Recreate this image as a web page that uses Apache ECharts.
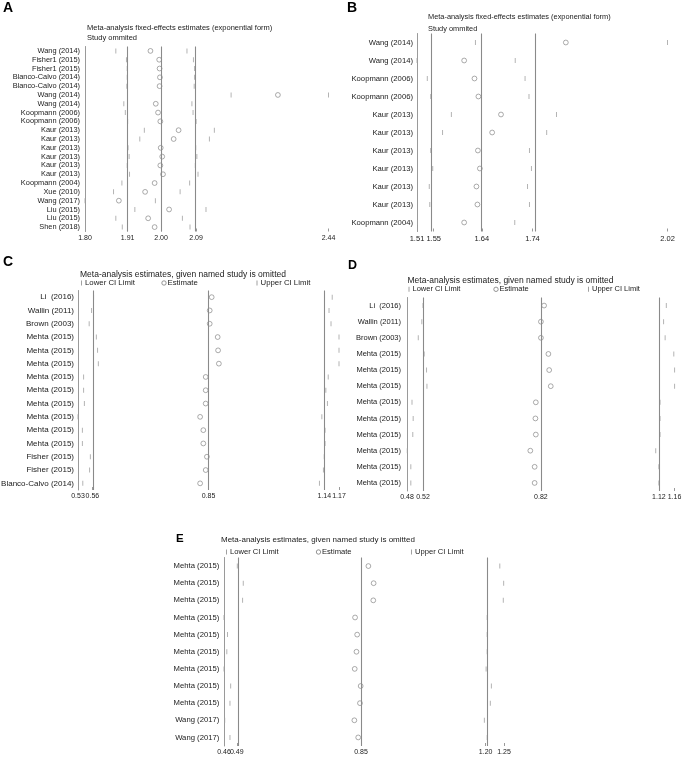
<!DOCTYPE html>
<html><head><meta charset="utf-8">
<script src="https://cdn.jsdelivr.net/npm/echarts@6/dist/echarts.min.js"></script>
<style>html,body{margin:0;padding:0;background:#fff}#c{width:685px;height:759px}</style>
</head><body><div id="c"></div>
<script>
// ---------- Panel A ----------
const aStudies = ["Wang (2014)","Fisher1 (2015)","Fisher1 (2015)","Blanco-Calvo (2014)","Blanco-Calvo (2014)","Wang (2014)","Wang (2014)","Koopmann (2006)","Koopmann (2006)","Kaur (2013)","Kaur (2013)","Kaur (2013)","Kaur (2013)","Kaur (2013)","Kaur (2013)","Koopmann (2004)","Xue (2010)","Wang (2017)","Liu (2015)","Liu (2015)","Shen (2018)"];
const aLower = [1.881,1.909,1.911,1.911,1.910,2.184,1.902,1.906,1.912,1.956,1.944,1.913,1.916,1.911,1.917,1.897,1.875,1.800,1.931,1.881,1.898];
const aEst   = [1.972,1.995,1.996,1.997,1.996,2.307,1.986,1.992,1.998,2.046,2.033,1.999,2.003,1.998,2.005,1.983,1.958,1.889,2.021,1.966,1.983];
const aUpper = [2.068,2.085,2.088,2.088,2.087,2.440,2.081,2.084,2.092,2.140,2.127,2.091,2.094,2.090,2.097,2.075,2.050,1.985,2.118,2.056,2.076];
const aTicks = [1.80,1.912,2.00,2.092,2.44];
const aTickLabels = ["1.80","1.91","2.00","2.09","2.44"];

// ---------- Panel B ----------
const bStudies = ["Wang (2014)","Wang (2014)","Koopmann (2006)","Koopmann (2006)","Kaur (2013)","Kaur (2013)","Kaur (2013)","Kaur (2013)","Kaur (2013)","Kaur (2013)","Koopmann (2004)"];
const bLower = [1.629,1.510,1.531,1.538,1.580,1.562,1.538,1.542,1.535,1.536,1.511];
const bEst   = [1.813,1.606,1.627,1.635,1.681,1.663,1.634,1.638,1.631,1.633,1.606];
const bUpper = [2.020,1.710,1.730,1.738,1.794,1.774,1.739,1.743,1.735,1.739,1.709];
const bTicks = [1.51,1.544,1.642,1.745,2.02];
const bTickLabels = ["1.51","1.55","1.64","1.74","2.02"];

// ---------- Panel C ----------
const cStudies = ["Li  (2016)","Wallin (2011)","Brown (2003)","Mehta (2015)","Mehta (2015)","Mehta (2015)","Mehta (2015)","Mehta (2015)","Mehta (2015)","Mehta (2015)","Mehta (2015)","Mehta (2015)","Fisher (2015)","Fisher (2015)","Blanco-Calvo (2014)"];
const cLower = [0.562,0.557,0.551,0.569,0.572,0.574,0.537,0.537,0.539,0.523,0.534,0.534,0.554,0.552,0.535];
const cEst   = [0.858,0.853,0.853,0.873,0.874,0.876,0.843,0.843,0.843,0.829,0.837,0.837,0.846,0.843,0.829];
const cUpper = [1.160,1.152,1.157,1.177,1.177,1.177,1.150,1.144,1.148,1.134,1.142,1.142,1.140,1.138,1.128];
const cTicks = [0.523,0.559,0.85,1.14,1.177];
const cTickLabels = ["0.53","0.56","0.85","1.14","1.17"];

// ---------- Panel D ----------
const dStudies = ["Li  (2016)","Wallin (2011)","Brown (2003)","Mehta (2015)","Mehta (2015)","Mehta (2015)","Mehta (2015)","Mehta (2015)","Mehta (2015)","Mehta (2015)","Mehta (2015)","Mehta (2015)"];
const dLower = [0.520,0.517,0.508,0.523,0.529,0.530,0.492,0.495,0.494,0.480,0.489,0.489];
const dEst   = [0.828,0.820,0.820,0.839,0.841,0.845,0.807,0.806,0.807,0.793,0.804,0.804];
const dUpper = [1.139,1.132,1.136,1.158,1.160,1.160,1.123,1.123,1.123,1.112,1.120,1.120];
const dTicks = [0.4793,0.52,0.82,1.12,1.1598];
const dTickLabels = ["0.48","0.52","0.82","1.12","1.16"];

// ---------- Panel E ----------
const eStudies = ["Mehta (2015)","Mehta (2015)","Mehta (2015)","Mehta (2015)","Mehta (2015)","Mehta (2015)","Mehta (2015)","Mehta (2015)","Mehta (2015)","Wang (2017)","Wang (2017)"];
const eLower = [0.497,0.514,0.512,0.459,0.469,0.467,0.459,0.478,0.476,0.461,0.476];
const eEst   = [0.871,0.886,0.885,0.833,0.839,0.837,0.832,0.849,0.847,0.831,0.842];
const eUpper = [1.246,1.257,1.256,1.210,1.210,1.210,1.207,1.222,1.219,1.202,1.210];
const eTicks = [0.459,0.4954,0.85,1.2055,1.258];
const eTickLabels = ["0.46","0.49","0.85","1.20","1.25"];

const FONT = 'Liberation Sans, Arial, Helvetica, sans-serif';
const TXT = '#1a1a1a';
const AXIS = '#9a9a9a';
const MARK = '#a0a0a0';

const panels = [
  {studies:aStudies, lower:aLower, est:aEst, upper:aUpper, ticks:aTicks, tickLabels:aTickLabels,
   grid:{left:85, top:46.5, width:243.5, height:185}, labelSize:7.4, labelMargin:5, tickSize:7},
  {studies:bStudies, lower:bLower, est:bEst, upper:bUpper, ticks:bTicks, tickLabels:bTickLabels,
   grid:{left:417, top:33.5, width:250.5, height:198}, labelSize:7.7, labelMargin:4, tickSize:7.5},
  {studies:cStudies, lower:cLower, est:cEst, upper:cUpper, ticks:cTicks, tickLabels:cTickLabels,
   grid:{left:78, top:290.5, width:261, height:199.5}, labelSize:8, labelMargin:4, tickSize:7},
  {studies:dStudies, lower:dLower, est:dEst, upper:dUpper, ticks:dTicks, tickLabels:dTickLabels,
   grid:{left:407, top:297.5, width:267.5, height:193.5}, labelSize:7.5, labelMargin:6, tickSize:7},
  {studies:eStudies, lower:eLower, est:eEst, upper:eUpper, ticks:eTicks, tickLabels:eTickLabels,
   grid:{left:224, top:557.5, width:280, height:188.5}, labelSize:7.7, labelMargin:4.7, tickSize:7}
];

const grids = [], xAxes = [], yAxes = [], series = [];
function labelFn(p) {
  return (v)=>{const k=p.ticks.findIndex(t=>Math.abs(t-v)<1e-6);return k>=0?p.tickLabels[k]:'';};
}
panels.forEach((p, i) => {
  grids.push(Object.assign({outerBoundsMode:'none', containLabel:false}, p.grid));
  const mn = p.ticks[0], mx = p.ticks[p.ticks.length-1];
  // main axis: line, ticks, labels except the minimum
  xAxes.push({
    type:'value', gridIndex:i, position:'bottom', min:mn, max:mx,
    splitLine:{show:false},
    axisLine:{lineStyle:{color:AXIS, width:1}},
    axisTick:{show:true, inside:true, length:3, customValues:p.ticks, lineStyle:{color:AXIS}},
    axisLabel:{customValues:p.ticks.slice(1), hideOverlap:false, formatter:labelFn(p),
      fontSize:p.tickSize, color:TXT, fontFamily:FONT, margin:3}
  });
  yAxes.push({
    type:'category', gridIndex:i, data:p.studies, inverse:true,
    axisTick:{show:false},
    axisLine:{lineStyle:{color:AXIS, width:1}},
    axisLabel:{interval:0, fontSize:p.labelSize, color:TXT, fontFamily:FONT, margin:p.labelMargin}
  });
  const xi = xAxes.length - 1;
  const refs = p.ticks.slice(1, 4);
  series.push({
    type:'scatter', name:'Lower CI Limit', xAxisIndex:xi, yAxisIndex:i, symbol:'rect', symbolSize:[1,5],
    itemStyle:{color:MARK}, silent:true, data:p.lower.map((v,j)=>[v,j]), z:3
  });
  series.push({
    type:'scatter', name:'Upper CI Limit', xAxisIndex:xi, yAxisIndex:i, symbol:'rect', symbolSize:[1,5],
    itemStyle:{color:MARK}, silent:true, data:p.upper.map((v,j)=>[v,j]), z:3
  });
  series.push({
    type:'scatter', name:'Estimate', xAxisIndex:xi, yAxisIndex:i, symbol:'circle', symbolSize:4.8,
    itemStyle:{color:'rgba(0,0,0,0)', borderColor:'#7a7a7a', borderWidth:0.8}, silent:true,
    data:p.est.map((v,j)=>[v,j]), z:4,
    markLine:{silent:true, symbol:'none', label:{show:false}, animation:false,
      lineStyle:{color:'#8a8a8a', width:1.1, type:'solid'},
      data:refs.map(r=>({xAxis:r}))}
  });
});
// companion axes carrying only the minimum label (so overlapping min labels are not dropped)
panels.forEach((p, i) => {
  xAxes.push({
    type:'value', gridIndex:i, position:'bottom', offset:0, min:p.ticks[0], max:p.ticks[p.ticks.length-1],
    splitLine:{show:false}, axisLine:{show:false}, axisTick:{show:false},
    axisLabel:{customValues:[p.ticks[0]], formatter:labelFn(p),
      fontSize:p.tickSize, color:TXT, fontFamily:FONT, margin:3}
  });
});

// Text decorations (panel letters, headers, legends)
const graphic = [];
function txt(x, y, s, size, opts) {
  graphic.push({type:'text', x:x, y:y, silent:true,
    style:Object.assign({text:s, fontSize:size, fontFamily:FONT, fill:TXT, align:'left', verticalAlign:'middle'}, opts||{})});
}
function bar(x, y) { graphic.push({type:'rect', silent:true, shape:{x:x, y:y-2.5, width:1, height:5}, style:{fill:MARK}}); }
function circ(x, y) { graphic.push({type:'circle', silent:true, shape:{cx:x, cy:y, r:2.2}, style:{fill:'none', stroke:'#7a7a7a', lineWidth:0.8}}); }

txt(3, 8, 'A', 14, {fontWeight:'bold', fill:'#000'});
txt(87, 28, 'Meta-analysis fixed-effects estimates (exponential form)', 7.5);
txt(87, 38, 'Study ommited', 7.5);

txt(347, 8.5, 'B', 14, {fontWeight:'bold', fill:'#000'});
txt(428, 17, 'Meta-analysis fixed-effects estimates (exponential form)', 7.4);
txt(428, 29, 'Study ommited', 7.4);

function legendRow(y, xs, size) {
  bar(xs[0], y); txt(xs[0]+4, y, 'Lower CI Limit', size);
  circ(xs[1], y); txt(xs[1]+3.5, y, 'Estimate', size);
  bar(xs[2], y); txt(xs[2]+4, y, 'Upper CI Limit', size);
}
txt(3, 262, 'C', 14, {fontWeight:'bold', fill:'#000'});
txt(80, 274.3, 'Meta-analysis estimates, given named study is omitted', 8.5);
legendRow(283, [81, 164, 256.5], 7.8);

txt(348, 266, 'D', 12.5, {fontWeight:'bold', fill:'#000'});
txt(407.5, 280.7, 'Meta-analysis estimates, given named study is omitted', 8.5);
legendRow(289.3, [408.5, 496, 588], 7.5);

txt(176, 538.5, 'E', 11.5, {fontWeight:'bold', fill:'#000'});
txt(221, 539.3, 'Meta-analysis estimates, given named study is omitted', 8);
legendRow(552, [226, 318.5, 411], 7.6);

const chart = echarts.init(document.getElementById('c'), null, {renderer:'canvas'});
chart.setOption({
  animation:false, backgroundColor:'#fff',
  grid:grids, xAxis:xAxes, yAxis:yAxes, series:series, graphic:graphic
});
</script></body></html>
